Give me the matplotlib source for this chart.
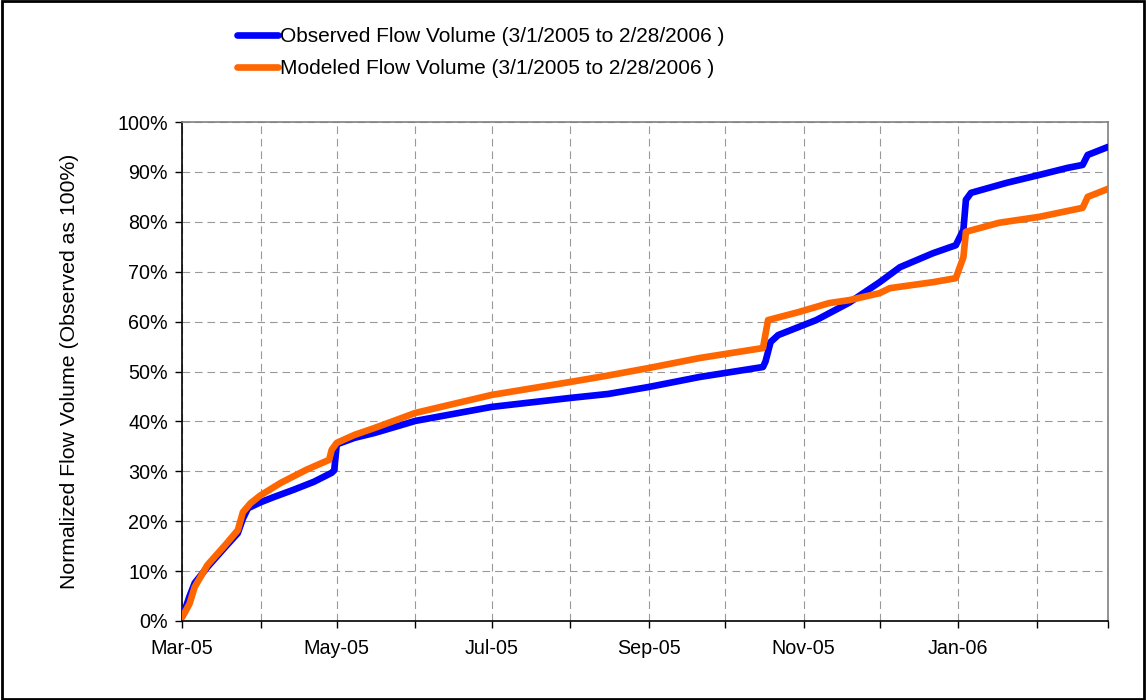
import matplotlib
matplotlib.use("Agg")
import matplotlib.pyplot as plt
from matplotlib.lines import Line2D
from matplotlib.patches import Rectangle
import pandas as pd

# Cumulative observed flow volume, % of total observed volume
obs_dates = ["2005-03-01", "2005-03-02", "2005-03-04", "2005-03-06", "2005-03-11",
             "2005-03-18", "2005-03-23", "2005-03-25", "2005-03-27", "2005-04-01",
             "2005-04-06", "2005-04-14", "2005-04-22", "2005-04-29", "2005-04-30",
             "2005-05-01", "2005-05-08", "2005-05-16", "2005-06-01", "2005-07-01",
             "2005-08-01", "2005-08-16", "2005-09-01", "2005-09-21", "2005-10-01",
             "2005-10-16", "2005-10-17", "2005-10-19", "2005-10-22", "2005-10-30",
             "2005-11-06", "2005-11-19", "2005-12-01", "2005-12-09", "2005-12-22",
             "2005-12-31", "2006-01-03", "2006-01-04", "2006-01-06", "2006-01-20",
             "2006-02-02", "2006-02-13", "2006-02-19", "2006-02-21", "2006-03-01"]
obs_values = [0.8, 2.0, 5.0, 7.6, 10.8,
              14.8, 17.6, 20.5, 22.6, 23.8,
              24.8, 26.3, 27.9, 29.7, 30.2,
              35.4, 36.7, 37.7, 40.1, 42.9,
              44.7, 45.5, 46.9, 48.9, 49.7,
              50.9, 52.0, 55.9, 57.3, 58.9,
              60.3, 63.8, 67.9, 70.9, 73.7,
              75.3, 78.4, 84.4, 85.8, 87.8,
              89.4, 90.8, 91.4, 93.4, 95.0]

# Cumulative modeled flow volume, % of total observed volume
mod_dates = ["2005-03-01", "2005-03-02", "2005-03-04", "2005-03-06", "2005-03-11",
             "2005-03-18", "2005-03-23", "2005-03-25", "2005-03-28", "2005-04-01",
             "2005-04-09", "2005-04-19", "2005-04-28", "2005-04-29", "2005-05-01",
             "2005-05-08", "2005-05-16", "2005-06-01", "2005-07-01", "2005-08-01",
             "2005-08-16", "2005-09-01", "2005-09-21", "2005-10-01", "2005-10-16",
             "2005-10-18", "2005-10-30", "2005-11-11", "2005-11-19", "2005-12-01",
             "2005-12-05", "2005-12-22", "2005-12-31", "2006-01-03", "2006-01-04",
             "2006-01-17", "2006-02-02", "2006-02-19", "2006-02-21", "2006-03-01"]
mod_values = [0.8, 1.6, 3.5, 6.8, 11.2,
              15.2, 18.2, 21.8, 23.6, 25.2,
              27.7, 30.3, 32.3, 34.3, 35.7,
              37.3, 38.7, 41.7, 45.3, 47.9,
              49.2, 50.7, 52.7, 53.5, 54.7,
              60.3, 61.9, 63.7, 64.3, 65.7,
              66.7, 67.9, 68.7, 72.9, 78.0,
              79.8, 81.0, 82.8, 85.0, 86.6]

obs_label = "Observed Flow Volume (3/1/2005 to 2/28/2006 )"
mod_label = "Modeled Flow Volume (3/1/2005 to 2/28/2006 )"
y_label = "Normalized Flow Volume (Observed as 100%)"

month_ticks = pd.date_range("2005-03-01", "2006-03-01", freq="MS")
month_labels = ["Mar-05", "", "May-05", "", "Jul-05", "", "Sep-05", "",
                "Nov-05", "", "Jan-06", "", ""]
y_ticks = list(range(0, 101, 10))

plt.rcParams["font.family"] = ["Liberation Sans", "DejaVu Sans"]
plt.rcParams["lines.scale_dashes"] = False

fig = plt.figure(figsize=(11.46, 7.00), dpi=100)
ax = fig.add_axes([182 / 1146, 79 / 700, 926 / 1146, 499 / 700])

obs_x = pd.to_datetime(obs_dates)
mod_x = pd.to_datetime(mod_dates)
ax.plot(obs_x, obs_values, color="#0000FF", lw=4.8,
        solid_joinstyle="round", solid_capstyle="round", zorder=3)
ax.plot(mod_x, mod_values, color="#FF6600", lw=4.8,
        solid_joinstyle="round", solid_capstyle="round", zorder=4)

ax.set_xlim(month_ticks[0], month_ticks[-1])
ax.set_ylim(0, 100)
ax.set_xticks(month_ticks)
ax.set_xticklabels(month_labels)
ax.set_yticks(y_ticks)
ax.set_yticklabels([f"{v}%" for v in y_ticks])

ax.grid(True, color="#999999", lw=0.8, linestyle=(0, (5.5, 3.5)))
ax.set_axisbelow(True)
ax.tick_params(axis="both", direction="out", length=5, width=1, color="black",
               labelsize=14.2, labelcolor="black")
ax.tick_params(axis="x", pad=8)
ax.tick_params(axis="y", pad=5)

for side in ("left", "bottom"):
    ax.spines[side].set_color("black")
    ax.spines[side].set_linewidth(1.2)
for side in ("top", "right"):
    ax.spines[side].set_color("#808080")
    ax.spines[side].set_linewidth(1.2)

ax.set_ylabel(y_label, fontsize=15.3)
ax.yaxis.set_label_coords(-0.111, 0.5)

# Legend above the plot area
handles = [Line2D([], [], color="#0000FF", lw=4.8, solid_capstyle="round"),
           Line2D([], [], color="#FF6600", lw=4.8, solid_capstyle="round")]
fig.legend(handles, [obs_label, mod_label], loc="upper left",
           bbox_to_anchor=(237 / 1146, 1 - 27 / 700), frameon=False,
           fontsize=15.0, handlelength=1.98, handletextpad=0.1,
           labelspacing=0.62, borderpad=0, borderaxespad=0)

# Outer chart border
fig.add_artist(Rectangle((0.0015, 0.002), 0.997, 0.996, transform=fig.transFigure,
                         fill=False, edgecolor="black", lw=2))

fig.savefig("out.png", dpi=100)
